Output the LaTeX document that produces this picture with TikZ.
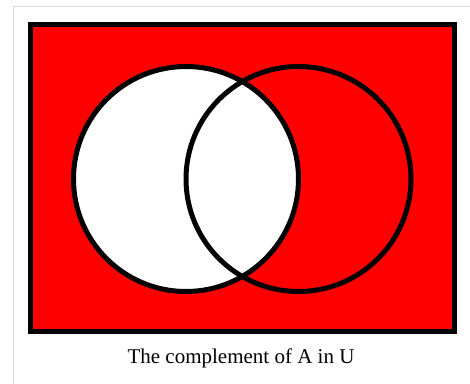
\documentclass[tikz,border=0pt]{standalone}
\usepackage{fontspec}
\setmainfont{Liberation Serif}
\definecolor{vred}{RGB}{255,0,0}
\definecolor{framegray}{RGB}{217,217,217}
\begin{document}
\begin{tikzpicture}[x=1pt,y=-1pt,
  setline/.style={line width=5pt},
  caption/.style={font=\fontsize{21}{25}\selectfont, anchor=base, inner sep=0pt}]
\useasboundingbox (0,0) rectangle (470,383);
\fill[white] (0,0) rectangle (470,383);
\begin{scope}
\clip (0,0) rectangle (470,383);
\draw[framegray, line width=1pt] (13.5,6.5) rectangle (475,390);
\end{scope}
% universe
\coordinate (U1) at (30.5,24.5);
\coordinate (U2) at (454.5,331.5);
\fill[vred] (U1) rectangle (U2);
% sets A and B
\coordinate (A) at (186,179);
\coordinate (B) at (298.5,179);
\fill[white] (A) circle (112.5);
\draw[setline] (A) circle (112.5);
\draw[setline] (B) circle (112.5);
\draw[setline] (U1) rectangle (U2);
\node[caption] (cap) at (241,363.5) {The complement of A in U};
\end{tikzpicture}
\end{document}
